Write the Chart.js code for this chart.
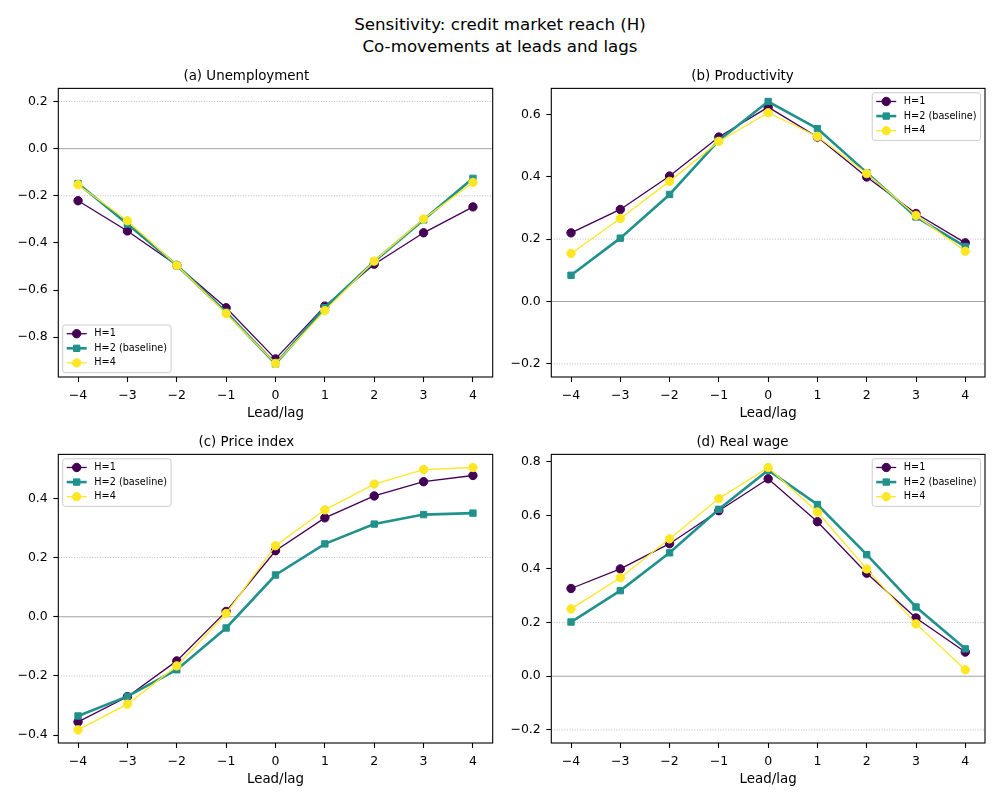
<!DOCTYPE html>
<html>
<head>
<meta charset="utf-8">
<script src="https://cdn.jsdelivr.net/npm/chart.js@4.4.1/dist/chart.umd.min.js"></script>
<style>
body { margin: 0; background: #fff; width: 1000px; height: 800px; position: relative; overflow: hidden; font-family: 'DejaVu Sans', sans-serif; }
#suptitle { position: absolute; left: 0; top: 12.5px; width: 1000px; text-align: center; font-size: 16.7px; line-height: 22px; color: #000; }
canvas { position: absolute; }
</style>
</head>
<body>
<div id="suptitle">Sensitivity: credit market reach (H)<br>Co-movements at leads and lags</div>
<canvas id="cUnemp" width="500" height="368" style="left:0px;top:55px"></canvas>
<canvas id="cProd" width="500" height="368" style="left:500px;top:55px"></canvas>
<canvas id="cPrice" width="500" height="368" style="left:0px;top:421px"></canvas>
<canvas id="cWage" width="500" height="368" style="left:500px;top:421px"></canvas>
<script>
// leads/lags on the x axis
var lags = [-4, -3, -2, -1, 0, 1, 2, 3, 4];
var seriesLabels = ['H=1', 'H=2 (baseline)', 'H=4'];

// (a) Unemployment
var unempH1 = [-0.221, -0.349, -0.495, -0.675, -0.892, -0.668, -0.490, -0.357, -0.247];
var unempH2 = [-0.148, -0.320, -0.495, -0.694, -0.913, -0.675, -0.479, -0.302, -0.126];
var unempH4 = [-0.153, -0.306, -0.495, -0.699, -0.911, -0.687, -0.477, -0.298, -0.143];

// (b) Productivity
var prodH1 = [0.220, 0.295, 0.402, 0.527, 0.623, 0.527, 0.399, 0.282, 0.188];
var prodH2 = [0.084, 0.203, 0.343, 0.516, 0.641, 0.554, 0.413, 0.271, 0.176];
var prodH4 = [0.154, 0.266, 0.385, 0.513, 0.605, 0.529, 0.410, 0.276, 0.161];

// (c) Price index
var priceH1 = [-0.355, -0.270, -0.149, 0.018, 0.223, 0.334, 0.408, 0.456, 0.477];
var priceH2 = [-0.335, -0.269, -0.179, -0.038, 0.141, 0.246, 0.313, 0.345, 0.350];
var priceH4 = [-0.382, -0.295, -0.166, 0.011, 0.240, 0.361, 0.448, 0.497, 0.504];

// (d) Real wage
var wageH1 = [0.327, 0.400, 0.494, 0.617, 0.736, 0.576, 0.384, 0.217, 0.090];
var wageH2 = [0.202, 0.319, 0.460, 0.622, 0.768, 0.640, 0.453, 0.258, 0.102];
var wageH4 = [0.251, 0.367, 0.512, 0.662, 0.778, 0.612, 0.400, 0.195, 0.024];

// tick values
var xTicks = [-4, -3, -2, -1, 0, 1, 2, 3, 4];
var yTicksUnemp = [-0.8, -0.6, -0.4, -0.2, 0.0, 0.2];
var yTicksProd = [-0.2, 0.0, 0.2, 0.4, 0.6];
var yTicksPrice = [-0.4, -0.2, 0.0, 0.2, 0.4];
var yTicksWage = [-0.2, 0.0, 0.2, 0.4, 0.6, 0.8];

// horizontal reference lines: zero (solid) and +/-0.2 (dotted)
var refLines = [0, 0.2, -0.2];

Chart.defaults.font.family = "'DejaVu Sans', sans-serif";
Chart.defaults.color = '#000';

function minus(s) { return String(s).replace('-', '\u2212'); }

function series(label, values, color, width, style, radius, order) {
    return {
        label: label,
        data: lags.map(function (x, i) { return { x: x, y: values[i] }; }),
        borderColor: color,
        backgroundColor: color,
        borderWidth: width,
        pointStyle: style,
        pointRadius: radius,
        pointBorderWidth: 1,
        pointBorderColor: color,
        pointBackgroundColor: color,
        tension: 0,
        fill: false,
        order: order
    };
}

var panelPlugin = {
    id: 'panel',
    beforeDatasetsDraw: function (chart) {
        var ctx = chart.ctx, a = chart.chartArea, y = chart.scales.y;
        ctx.save();
        refLines.forEach(function (v) {
            var py = y.getPixelForValue(v);
            ctx.beginPath();
            if (v === 0) {
                ctx.strokeStyle = '#999';
                ctx.lineWidth = 0.9;
                ctx.setLineDash([]);
            } else {
                ctx.strokeStyle = '#aaa';
                ctx.lineWidth = 0.8;
                ctx.setLineDash([1, 1.6]);
            }
            ctx.moveTo(a.left, py);
            ctx.lineTo(a.right, py);
            ctx.stroke();
        });
        ctx.restore();
    },
    afterDraw: function (chart) {
        var ctx = chart.ctx, a = chart.chartArea;
        ctx.save();
        // axes frame
        ctx.strokeStyle = '#000';
        ctx.lineWidth = 1.1;
        ctx.strokeRect(a.left, a.top, a.right - a.left, a.bottom - a.top);

        // legend inside the axes
        var loc = chart.options.plugins.panel.loc;
        var ds = chart.data.datasets;
        ctx.font = "9.7px 'DejaVu Sans', sans-serif";
        var pad = 4, handle = 20, gap = 7.6, rowH = 14.6;
        var textW = Math.max.apply(null, ds.map(function (d) { return ctx.measureText(d.label).width; }));
        var w = pad + handle + gap + textW + pad;
        var h = 8.7 + rowH * (ds.length - 1) + 9.7;
        var x0 = loc.indexOf('left') >= 0 ? a.left + 4.4 : a.right - 4.4 - w;
        var y0 = loc.indexOf('upper') >= 0 ? a.top + 4.4 : a.bottom - 4.4 - h;
        ctx.beginPath();
        ctx.roundRect(x0, y0, w, h, 2.5);
        ctx.fillStyle = 'rgba(255,255,255,0.8)';
        ctx.fill();
        ctx.strokeStyle = '#cccccc';
        ctx.lineWidth = 1;
        ctx.stroke();
        ds.forEach(function (d, i) {
            var cy = y0 + 8.7 + i * rowH;
            ctx.beginPath();
            ctx.strokeStyle = d.borderColor;
            ctx.lineWidth = d.borderWidth;
            ctx.moveTo(x0 + pad, cy);
            ctx.lineTo(x0 + pad + handle, cy);
            ctx.stroke();
            ctx.fillStyle = d.borderColor;
            ctx.lineWidth = 1;
            Chart.helpers.drawPoint(ctx, { pointStyle: d.pointStyle, radius: d.pointRadius, borderWidth: 1, rotation: 0 }, x0 + pad + handle / 2, cy);
            ctx.fillStyle = '#000';
            ctx.textBaseline = 'middle';
            ctx.textAlign = 'left';
            ctx.fillText(d.label, x0 + pad + handle + gap, cy);
        });
        ctx.restore();
    }
};

function makePanel(id, title, h1, h2, h4, yTicks, loc, yWidth, rightPad) {
    var all = h1.concat(h2, h4, refLines);
    var lo = Math.min.apply(null, all), hi = Math.max.apply(null, all);
    var margin = (hi - lo) * 0.05;

    new Chart(document.getElementById(id).getContext('2d'), {
        type: 'line',
        data: {
            datasets: [
                series(seriesLabels[0], h1, '#440154', 1.3, 'circle', 4.2, 3),
                series(seriesLabels[1], h2, '#21918c', 2.6, 'rect', 4.5, 2),
                series(seriesLabels[2], h4, '#fde725', 1.3, 'circle', 4.2, 1)
            ]
        },
        options: {
            responsive: false,
            animation: false,
            devicePixelRatio: 1,
            layout: { padding: { left: 0, right: rightPad, top: 0, bottom: 0 } },
            plugins: {
                legend: { display: false },
                tooltip: { enabled: false },
                title: {
                    display: true,
                    text: title,
                    color: '#000',
                    font: { size: 13.4, weight: 'normal' },
                    padding: { top: 13.8, bottom: 3.5 }
                },
                panel: { loc: loc }
            },
            scales: {
                x: {
                    type: 'linear',
                    min: -4.4,
                    max: 4.4,
                    afterBuildTicks: function (axis) { axis.ticks = xTicks.map(function (v) { return { value: v }; }); },
                    afterFit: function (axis) { axis.height = 46; },
                    ticks: { padding: 6, font: { size: 12.5 }, color: '#000', maxRotation: 0, callback: function (v) { return minus(v); } },
                    grid: { drawOnChartArea: false, tickLength: 5, tickColor: '#000', tickWidth: 1.1 },
                    border: { display: false },
                    title: { display: true, text: 'Lead/lag', color: '#000', font: { size: 13.4 }, padding: { top: 0, bottom: 1.4 } }
                },
                y: {
                    min: lo - margin,
                    max: hi + margin,
                    afterBuildTicks: function (axis) { axis.ticks = yTicks.map(function (v) { return { value: v }; }); },
                    afterFit: function (axis) { axis.width = yWidth; },
                    ticks: { padding: 5.5, font: { size: 12.5 }, color: '#000', callback: function (v) { return minus(v.toFixed(1)); } },
                    grid: { drawOnChartArea: false, tickLength: 5, tickColor: '#000', tickWidth: 1.1 },
                    border: { display: false }
                }
            }
        },
        plugins: [panelPlugin]
    });
}

makePanel('cUnemp', '(a) Unemployment', unempH1, unempH2, unempH4, yTicksUnemp, 'lower left', 58.3, 7.3);
makePanel('cProd', '(b) Productivity', prodH1, prodH2, prodH4, yTicksProd, 'upper right', 51.3, 15);
makePanel('cPrice', '(c) Price index', priceH1, priceH2, priceH4, yTicksPrice, 'upper left', 58.3, 7.3);
makePanel('cWage', '(d) Real wage', wageH1, wageH2, wageH4, yTicksWage, 'upper right', 51.3, 15);
</script>
</body>
</html>
